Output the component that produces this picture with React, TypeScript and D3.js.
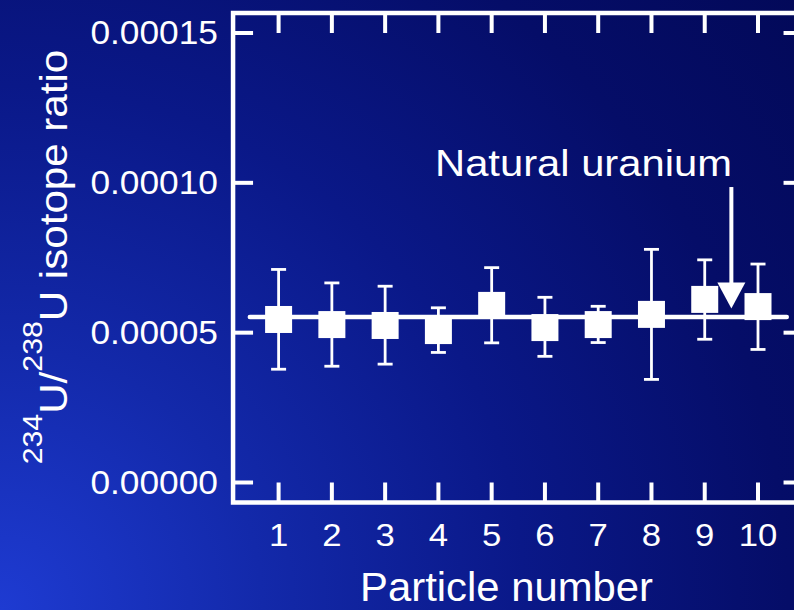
import React from 'react';
import * as d3 from 'd3';

const particles = [1, 2, 3, 4, 5, 6, 7, 8, 9, 10];
const ratios = [5.44e-5, 5.27e-5, 5.24e-5, 5.07e-5, 5.91e-5, 5.17e-5, 5.27e-5, 5.61e-5, 6.11e-5, 5.87e-5];
const upper = [7.11e-5, 6.66e-5, 6.55e-5, 5.83e-5, 7.17e-5, 6.18e-5, 5.88e-5, 7.78e-5, 7.43e-5, 7.29e-5];
const lower = [3.78e-5, 3.88e-5, 3.95e-5, 4.34e-5, 4.66e-5, 4.21e-5, 4.67e-5, 3.44e-5, 4.78e-5, 4.44e-5];
const yTicks = [0, 0.00005, 0.0001, 0.00015];
const yTickLabels = ['0.00000', '0.00005', '0.00010', '0.00015'];
const naturalRatio = 5.52e-5;
const naturalSpan = [0.46, 10.54];
const arrowAt = 9.5;
const arrowFrom = 9.86e-5;
const arrowTo = 5.81e-5;

const W = 794;
const H = 610;
const FONT = "'Liberation Sans', Arial, Helvetica, sans-serif";

export default function App() {
  const x = d3.scaleLinear().domain([1, 10]).range([278.6, 758]);
  const y = d3.scaleLinear().domain([0, 0.00015]).range([482.5, 33]);
  const frameL = x(0.145);
  const frameR = x(10.855);
  const frameT = y(0.00015) - 20;
  const frameB = y(0) + 20;
  const tickLen = 20;
  const sq = 27;
  const capW = 15;
  const ax = x(arrowAt);
  const tipY = y(arrowTo);
  const headH = 26;
  const headW = 28;

  return (
    <svg width={W} height={H} style={{ position: 'absolute', left: 0, top: 0, display: 'block' }}>
      <defs>
        <radialGradient id="bg" gradientUnits="userSpaceOnUse" cx={0} cy={H} r={1050}>
          <stop offset="0" stopColor="#1e3bd2" />
          <stop offset="0.25" stopColor="#1329aa" />
          <stop offset="0.5" stopColor="#0a1888" />
          <stop offset="0.75" stopColor="#050d68" />
          <stop offset="1" stopColor="#020856" />
        </radialGradient>
      </defs>
      <rect x={0} y={0} width={W} height={H} fill="url(#bg)" />

      {/* frame */}
      <rect x={frameL} y={frameT} width={frameR - frameL} height={frameB - frameT}
        fill="none" stroke="#fff" strokeWidth={4.5} />
      {particles.map((p) => (
        <g key={'xt' + p}>
          <line x1={x(p)} x2={x(p)} y1={frameT} y2={frameT + tickLen} stroke="#fff" strokeWidth={4} />
          <line x1={x(p)} x2={x(p)} y1={frameB} y2={frameB - tickLen} stroke="#fff" strokeWidth={4} />
          <text transform={`translate(${x(p)},546) scale(1.12,1)`} textAnchor="middle"
            fontFamily={FONT} fontSize={31} fill="#fff">{p}</text>
        </g>
      ))}
      {yTicks.map((t, i) => (
        <g key={'yt' + i}>
          <line x1={frameL} x2={frameL + tickLen} y1={y(t)} y2={y(t)} stroke="#fff" strokeWidth={4} />
          <line x1={frameR} x2={frameR - tickLen} y1={y(t)} y2={y(t)} stroke="#fff" strokeWidth={4} />
          <text transform={`translate(218,${y(t) + 11}) scale(1.07,1)`} textAnchor="end"
            fontFamily={FONT} fontSize={33} fill="#fff">{yTickLabels[i]}</text>
        </g>
      ))}

      {/* natural uranium reference line */}
      <line x1={x(naturalSpan[0])} x2={x(naturalSpan[1])} y1={y(naturalRatio)} y2={y(naturalRatio)}
        stroke="#fff" strokeWidth={4.5} strokeLinecap="round" />

      {/* error bars and markers */}
      {particles.map((p, i) => (
        <g key={'pt' + p}>
          <line x1={x(p)} x2={x(p)} y1={y(upper[i])} y2={y(lower[i])} stroke="#fff" strokeWidth={2.8} />
          <line x1={x(p) - capW / 2} x2={x(p) + capW / 2} y1={y(upper[i])} y2={y(upper[i])} stroke="#fff" strokeWidth={2.8} />
          <line x1={x(p) - capW / 2} x2={x(p) + capW / 2} y1={y(lower[i])} y2={y(lower[i])} stroke="#fff" strokeWidth={2.8} />
          <rect x={x(p) - sq / 2} y={y(ratios[i]) - sq / 2} width={sq} height={sq} fill="#fff" />
        </g>
      ))}

      {/* arrow */}
      <line x1={ax} x2={ax} y1={y(arrowFrom)} y2={tipY - headH + 1} stroke="#fff" strokeWidth={4} />
      <polygon points={`${ax - headW / 2},${tipY - headH} ${ax + headW / 2},${tipY - headH} ${ax},${tipY}`} fill="#fff" />
      <text transform="translate(435,176) scale(1.16,1)" textAnchor="start"
        fontFamily={FONT} fontSize={36} fill="#fff">Natural uranium</text>

      {/* axis titles */}
      <text transform="translate(506.5,601) scale(1.02,1)" textAnchor="middle" fontFamily={FONT} fontSize={41} fill="#fff">
        Particle number
      </text>
      <text transform="translate(67,257) rotate(-90) scale(1.08,1)" textAnchor="middle"
        fontFamily={FONT} fontSize={39} fill="#fff">
        <tspan fontSize={28} dy={-25}>234</tspan>
        <tspan dy={25}>U/</tspan>
        <tspan fontSize={28} dy={-25}>238</tspan>
        <tspan dy={25}>U isotope ratio</tspan>
      </text>
    </svg>
  );
}
